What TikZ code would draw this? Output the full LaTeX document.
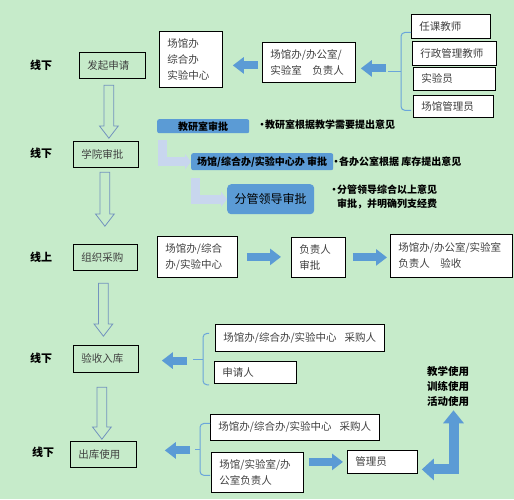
\documentclass[tikz,border=0pt]{standalone}
\usepackage{fontspec}
\setmainfont{Noto Sans CJK SC}
\usetikzlibrary{arrows.meta,positioning,calc,shapes.arrows}
\definecolor{PGreen}{HTML}{C6EBCA}
\definecolor{PBlue}{HTML}{5B9BD5}
\definecolor{PSteel}{HTML}{7393BE}
\definecolor{PPale}{HTML}{C8D6EE}
\definecolor{PBrace}{HTML}{6AA5DA}
\definecolor{PText}{HTML}{404040}

\begin{document}
\begin{tikzpicture}[x=1pt,y=-1pt,>=Latex,
    box/.style={draw=black,line width=0.8pt,text=PText,align=left,anchor=north west,inner xsep=8pt,inner ysep=0pt,font=\fontsize{10.5}{16}\selectfont},
    card/.style={box,fill=white},
    stage/.style={font=\fontsize{11}{13}\selectfont\bfseries},
    tag/.style={fill=PBlue,rounded corners=2pt,anchor=north west,inner sep=0pt,align=center,font=\fontsize{10}{12}\selectfont\bfseries},
    note/.style={anchor=west,align=left,inner sep=0pt,font=\fontsize{10}{14}\selectfont\bfseries},
    flow/.style={single arrow,draw=PSteel,line width=0.8pt,shape border rotate=270,minimum width=18pt,single arrow head extend=4.5pt,single arrow tip angle=75,inner sep=4.5pt,anchor=tail},
    push/.style={PBlue,line width=8pt,-{Triangle[length=11pt,width=16pt]}},
    elbow/.style={PPale,line width=9pt,-{Triangle[length=6pt,width=15pt]}},
    bracket/.style={PBrace,line width=1pt,rounded corners=4pt}]
    \fill[PGreen] (0,0) rectangle (514,499);

    % stages
    \node[stage] (s1) at (41,65) {线下};
    \node[stage] (s2) at (41,153) {线下};
    \node[stage] (s3) at (41,257) {线上};
    \node[stage] (s4) at (41,358) {线下};
    \node[stage] (s5) at (43,452) {线下};

    % main steps
    \node[box,text width=50pt,minimum height=26pt] (apply) at (79,52) {发起申请};
    \node[box,text width=49pt,minimum height=26pt] (college) at (73,141) {学院审批};
    \node[box,text width=48pt,minimum height=26pt] (purchase) at (73,244) {组织采购};
    \node[box,text width=49pt,minimum height=27pt] (stockin) at (73,345) {验收入库};
    \node[box,text width=50pt,minimum height=26pt] (stockout) at (70,441) {出库使用};

    \node[flow,minimum height=53pt] (d1) at ([xshift=-3.5pt,yshift=-6pt]apply.south) {};
    \node[flow,minimum height=54pt] (d2) at ([xshift=-1pt,yshift=-4pt]college.south) {};
    \node[flow,minimum height=53pt] (d3) at ([xshift=-2pt,yshift=-12pt]purchase.south) {};
    \node[flow,minimum height=52pt] (d4) at ([xshift=-4pt,yshift=-14pt]stockin.south) {};

    % row 1
    \node[card,text width=47pt,minimum height=56pt] (hub1) at (159,31) {场馆办\\综合办\\实验中心};
    \node[card,text width=77pt,minimum height=40pt] (resp1) at (262,42) {场馆办/办公室/\\实验室　负责人};
    \node[card,text width=63pt,minimum height=24pt] (t1) at (411,14) {任课教师};
    \node[card,text width=68pt,minimum height=24pt] (t2) at (412,41) {行政管理教师};
    \node[card,text width=66pt,minimum height=23pt] (t3) at (413,67) {实验员};
    \node[card,text width=64pt,minimum height=22pt] (t4) at (413,95) {场馆管理员};

    \coordinate (b1top) at ([yshift=-6pt]t1.west);
    \coordinate (b1bot) at ([yshift=-4pt]t4.west -| t1.west);
    \coordinate (b1mid) at ($(b1top)!0.5!(b1bot)+(-10,0)$);
    \draw[bracket] (b1top) -| (b1mid) |- (b1bot);
    \draw[bracket] (b1mid) -- ++(-13,0) coordinate (b1tip);
    \draw[push,shorten <=2pt,shorten >=5pt] ([yshift=3pt]b1tip) -- ([yshift=3pt]b1tip -| resp1.east);
    \draw[push,shorten <=4pt,shorten >=10pt] ([yshift=-3pt]resp1.west) -- ([yshift=-3pt]resp1.west -| hub1.east);

    % row 2
    \node[tag,minimum width=92pt,minimum height=14pt] (review) at (157,119) {教研室审批};
    \node[tag,minimum width=142pt,minimum height=17pt] (venue) at (191,153) {场馆/综合办/实验中心办 审批};
    \node[tag,minimum width=87pt,minimum height=30pt,rounded corners=4pt,font=\fontsize{12}{14}\selectfont] (leader) at (227,184) {分管领导审批};
    \node[note] (n1) at (257,125) {•\kern-2pt 教研室根据教学需要提出意见};
    \node[note] (n2) at (331,162) {•\kern-2pt 各办公室根据 库存提出意见};
    \node[note] (n3) at (329,197) {•\kern-2pt 分管领导综合以上意见\\\phantom{•}\kern-2pt 审批，并明确列支经费};
    \draw[elbow,shorten <=7pt] ([xshift=5.5pt]review.south west) |- (venue.west);
    \draw[elbow,shorten <=8pt] ([xshift=4.5pt]venue.south west) |- (leader.west);

    % row 3
    \node[card,text width=64pt,minimum height=41pt] (hub2) at (157,236) {场馆办/综合\\办/实验中心};
    \node[card,text width=38pt,minimum height=40pt] (approve) at (291,237) {负责人\\审批};
    \node[card,text width=106pt,minimum height=43pt] (accept) at (390,234) {场馆办/办公室/实验室\\负责人　验收};
    \draw[push,shorten <=9pt,shorten >=10pt] (hub2.east) -- (hub2.east -| approve.west);
    \draw[push,shorten <=7pt,shorten >=3pt] (approve.east) -- (approve.east -| accept.west);

    % row 4
    \node[card,text width=153pt,minimum height=27pt] (buyer1) at (215,324) {场馆办/综合办/实验中心\kern8pt 采购人};
    \node[card,text width=66pt,minimum height=22pt] (applicant) at (214,361) {申请人};
    \node[note,anchor=center,font=\fontsize{10.5}{15}\selectfont\bfseries] (uses) at (448,386) {教学使用\\训练使用\\活动使用};

    \coordinate (b2bot) at ([xshift=-5pt,yshift=-1pt]applicant.south west);
    \coordinate (b2y) at ([yshift=4.5pt]buyer1.west);
    \coordinate (b2top) at (b2bot |- b2y);
    \coordinate (b2mid) at ($(b2top)!0.5!(b2bot)+(-6,0)$);
    \draw[bracket] (b2top) -| (b2mid) |- (b2bot);
    \draw[bracket] (b2mid) -- ++(-10,0) coordinate (b2tip);
    \draw[push,shorten <=6pt,shorten >=23pt] ([yshift=-1.5pt]b2tip) -- ([yshift=-1.5pt]b2tip -| stockin.east);

    % row 5
    \node[card,text width=153pt,minimum height=26pt] (buyer2) at (210,414) {场馆办/综合办/实验中心\kern8pt 采购人};
    \node[card,text width=76pt,minimum height=40pt] (head2) at (211,452) {场馆/实验室/办\\公室负责人};
    \node[card,text width=54pt,minimum height=23pt] (keeper) at (347,450) {管理员};

    \coordinate (b3top) at ([yshift=4pt]buyer2.west);
    \coordinate (b3y) at ([yshift=-3pt]head2.west);
    \coordinate (b3bot) at (b3top |- b3y);
    \coordinate (b3mid) at ($(b3top)!0.5!(b3bot)+(-10,0)$);
    \draw[bracket] (b3top) -| (b3mid) |- (b3bot);
    \draw[bracket] (b3mid) -- ++(-5,0) coordinate (b3tip);
    \draw[push,shorten <=5pt,shorten >=28pt] ([yshift=-1pt]b3tip) -- ([yshift=-1pt]b3tip -| stockout.east);
    \draw[push,shorten <=5pt,shorten >=4pt] (keeper.west -| head2.east) -- (keeper.west);
    \draw[push,line width=10pt,{Triangle[length=12pt,width=21pt]}-{Triangle[length=13pt,width=20pt]}] ([xshift=4pt,yshift=-7.5pt]keeper.east) -| ([xshift=5.5pt,yshift=-4pt]uses.south);
\end{tikzpicture}
\end{document}
